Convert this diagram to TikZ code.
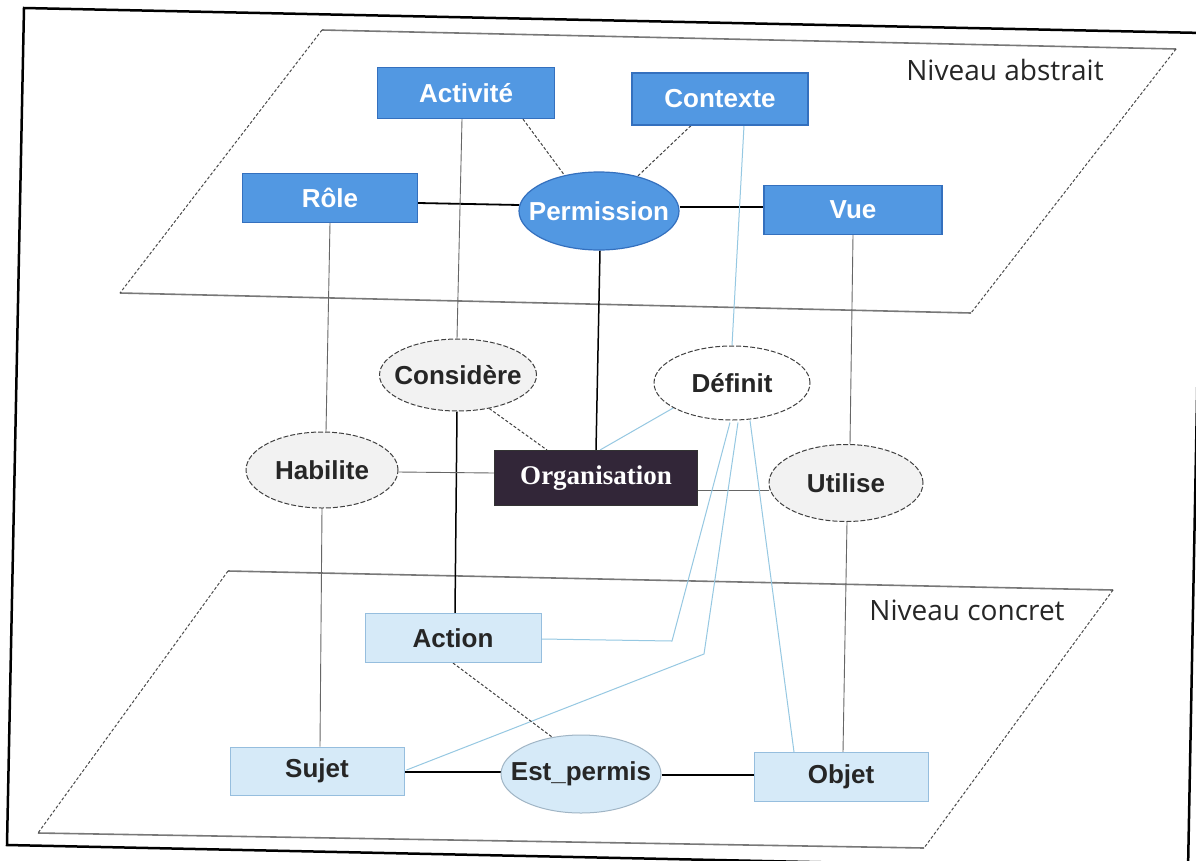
\documentclass[tikz,border=0pt]{standalone}
\usepackage{fontspec}
\setmainfont{Liberation Sans}
\newfontfamily\orgfont{Liberation Serif}
\newfontfamily\levelfont{Open Sans}
\usetikzlibrary{shapes.geometric,calc}

\definecolor{absblue}{RGB}{82,152,226}
\definecolor{absborder}{RGB}{52,112,190}
\definecolor{concfill}{RGB}{214,234,248}
\definecolor{concborder}{RGB}{150,190,222}
\definecolor{estfill}{RGB}{200,226,246}
\definecolor{orgfill}{RGB}{50,38,56}
\definecolor{relfill}{RGB}{242,242,242}
\definecolor{linkblue}{RGB}{150,200,226}
\definecolor{planegray}{RGB}{120,120,120}

\pgfdeclarelayer{background}
\pgfsetlayers{background,main}

% ellipse labels are set in a zero-width box so that the given size holds
\newcommand{\ellabel}[1]{\makebox[0pt]{#1}}

\begin{document}
\begin{tikzpicture}[x=1pt,y=-1pt,
  lbl/.style={font=\fontsize{26}{26}\selectfont\bfseries},
  absbox/.style={lbl, rectangle, draw=absborder, line width=1.2pt, fill=absblue,
    text=white, inner sep=0pt},
  absell/.style={absbox, ellipse},
  concbox/.style={lbl, rectangle, draw=concborder, line width=1pt, fill=concfill,
    text=black!85, inner sep=0pt},
  concell/.style={concbox, ellipse, draw=estfill!80!black},
  relation/.style={lbl, ellipse, draw=black!75, line width=1pt,
    dash pattern=on 5pt off 2pt, fill=relfill, text=black!85, inner sep=0pt},
  orgbox/.style={rectangle, fill=orgfill, draw=black!80, line width=1pt, text=white,
    font=\orgfont\fontsize{27}{27}\selectfont\bfseries, inner sep=0pt},
  link/.style={draw=black, line width=1.8pt},
  thinlink/.style={draw=black!60, line width=0.9pt},
  dashlink/.style={draw=black!75, line width=1pt, dash pattern=on 3pt off 2pt},
  bluelink/.style={draw=linkblue, line width=1pt},
  planeedge/.style={draw=planegray, line width=1.6pt},
  planeside/.style={draw=black!70, line width=1pt, dash pattern=on 3pt off 2pt},
  level/.style={font=\levelfont\fontsize{28}{28}\selectfont, text=black!85}
]
\useasboundingbox (0,0) rectangle (1196,860);

% abstract level
\node[absbox, minimum width=177pt, minimum height=51pt] (act) at (466,93) {Activité};
\node[absbox, minimum width=176pt, minimum height=52pt] (ctx) at (720,99) {Contexte};
\node[absbox, minimum width=175pt, minimum height=49pt] (role) at (330,198) {Rôle};
\node[absbox, minimum width=178pt, minimum height=49pt] (vue) at (853,210) {Vue};
\node[absell, minimum width=160pt, minimum height=78pt] (perm) at (599,211) {\ellabel{Permission}};

% relations between levels
\node[relation, minimum width=157pt, minimum height=72pt] (cons) at (458,375) {\ellabel{Considère}};
\node[relation, fill=white, minimum width=156pt, minimum height=74pt] (def) at (732,383) {\ellabel{Définit}};
\node[relation, minimum width=152pt, minimum height=76pt] (hab) at (322,470) {\ellabel{Habilite}};
\node[relation, minimum width=154pt, minimum height=77pt] (util) at (846,483) {\ellabel{Utilise}};
\node[orgbox, minimum width=203pt, minimum height=55pt] (org) at (596,478) {Organisation};

% concrete level
\node[concbox, minimum width=176pt, minimum height=49pt] (action) at (453,638) {Action};
\node[concbox, minimum width=174pt, minimum height=48pt] (suj) at (317,771) {Sujet};
\node[concbox, minimum width=174pt, minimum height=49pt] (obj) at (841,777) {Objet};
\node[concell, minimum width=160pt, minimum height=78pt] (est) at (581,774) {\ellabel{Est\_permis}};

% level captions
\node[level] (absname) at (1005,70) {Niveau abstrait};
\node[level] (concname) at (967,610) {Niveau concret};

\coordinate (bendA) at (672,641);
\coordinate (bendS) at (704,654);

\begin{pgfonlayer}{background}
  \fill[white] (0,0) rectangle (1196,860);
  % outer frame
  \draw[line width=2.5pt] (24,8) -- (1204,33) -- (1188,870) -- (7,845) -- cycle;

  % planes
  \draw[planeedge] (322,30) -- (1176,49);
  \draw[planeedge] (120,293) -- (971,313);
  \draw[planeside] (322,30) -- (120,293);
  \draw[planeside] (1176,49) -- (971,313);
  \draw[planeedge] (228,571) -- (1113,590);
  \draw[planeedge] (38,833) -- (924,848);
  \draw[planeside] (228,571) -- (38,833);
  \draw[planeside] (1113,590) -- (924,848);

  % abstract level links
  \draw[link] ($(role.east)+(0,5)$) -- ($(perm.west)+(1,-6)$);
  \draw[link] ($(perm.east)+(0,-4)$) -- ($(vue.west)+(0,-3)$);
  \draw[dashlink] ($(act.south)+(57,0)$) -- (perm.134);
  \draw[dashlink] ($(ctx.south)+(-29,0)$) -- (perm.42);

  % vertical links
  \draw[thinlink] (role.south) -- ($(hab.north)+(4,0)$);
  \draw[thinlink] ($(hab.south)$) -- ($(suj.north)+(3,0)$);
  \draw[thinlink] ($(act.south)+(-4,0)$) -- ($(cons.north)+(-1,0)$);
  \draw[link, line width=1.5pt] ($(cons.south)+(-1,0)$) -- ($(action.north)+(2,0)$);
  \draw[link, line width=1.5pt] ($(perm.south)+(1,0)$) -- (org.north);
  \draw[thinlink] (vue.south) -- ($(util.north)+(4,0)$);
  \draw[thinlink] ($(util.south)+(1,0)$) -- ($(obj.north)+(2,0)$);
  \draw[bluelink] ($(ctx.south)+(24,0)$) -- (def.north);

  % links around Organisation
  \draw[thinlink] ($(hab.east)+(0,2)$) -- ($(org.west)+(0,-5)$);
  \draw[thinlink] ($(org.east)+(0,12)$) -- ($(util.west)+(0,7)$);
  \draw[dashlink] (cons.-47) -- ($(org.north)+(-49,0)$);
  \draw[bluelink] (def.203) -- ($(org.north)+(4,0)$);

  % links from Définit down to the concrete level
  \draw[bluelink] ($(action.east)+(0,1)$) -- (bendA) -- ($(def.south)+(-2,2)$);
  \draw[bluelink] ($(suj.east)+(2,-1)$) -- (bendS) -- ($(def.south)+(6,2)$);
  \draw[bluelink] ($(obj.north)+(-47,0)$) -- ($(def.south)+(18,0)$);

  % concrete level links
  \draw[dashlink] (action.south) -- (est.128);
  \draw[link, line width=1.5pt] ($(suj.east)+(0,1)$) -- ($(est.west)+(0,-2)$);
  \draw[link, line width=1.5pt] ($(est.east)+(0,1)$) -- ($(obj.west)+(0,-2)$);
\end{pgfonlayer}
\end{tikzpicture}
\end{document}
